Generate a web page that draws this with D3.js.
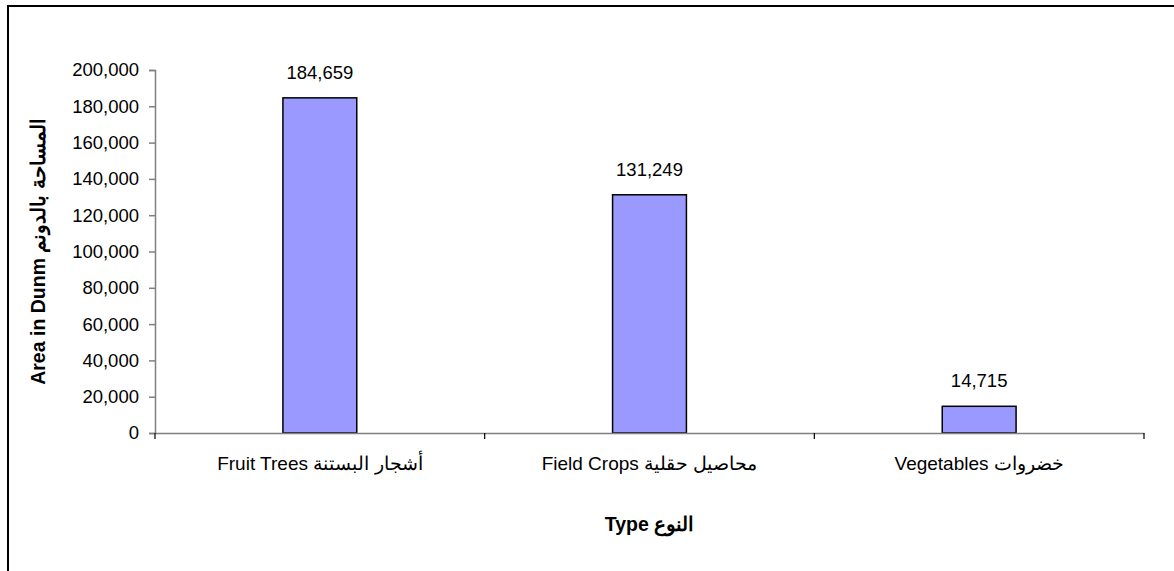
<!DOCTYPE html>
<html>
<head>
<meta charset="utf-8">
<script src="https://cdn.jsdelivr.net/npm/d3@7"></script>
<style>
  body { margin: 0; background: #fff; }
  text { font-family: "Liberation Sans", Arial, sans-serif; }
</style>
</head>
<body>
<div id="chart"></div>
<script>
var categories = ["Fruit Trees أشجار البستنة", "Field Crops محاصيل حقلية", "Vegetables  خضروات"];
var areas = [184659, 131249, 14715];
var yTicks = [0, 20000, 40000, 60000, 80000, 100000, 120000, 140000, 160000, 180000, 200000];
var yTitle = "Area in Dunm  المساحة بالدونم";
var xTitle = "Type النوع";

const W = 1174, H = 571;
const PLOT = { LEFT: 155, RIGHT: 1144, TOP: 70, BOTTOM: 433 };

const svg = d3.select("#chart").append("svg")
  .attr("width", W).attr("height", H);

// chart frame (cut off at right and bottom)
svg.append("rect")
  .attr("x", 8).attr("y", 6)
  .attr("width", W + 10).attr("height", H + 10)
  .attr("fill", "none").attr("stroke", "#000").attr("stroke-width", 2);

var x = d3.scaleBand()
  .domain(categories)
  .range([PLOT.LEFT, PLOT.RIGHT])
  .padding(0);

var y = d3.scaleLinear()
  .domain([0, 200000])
  .range([PLOT.BOTTOM, PLOT.TOP]);

var fmt = d3.format(",");
var barW = x.bandwidth() * 0.224;

// bars
svg.selectAll("rect.bar")
  .data(areas)
  .enter().append("rect")
  .attr("class", "bar")
  .attr("x", (d, i) => x(categories[i]) + x.bandwidth() / 2 - barW / 2)
  .attr("y", d => y(d))
  .attr("width", barW)
  .attr("height", d => y(0) - y(d))
  .attr("fill", "#9999FF")
  .attr("stroke", "#000")
  .attr("stroke-width", 1.5);

// value labels
svg.selectAll("text.val")
  .data(areas)
  .enter().append("text")
  .attr("class", "val")
  .attr("x", (d, i) => x(categories[i]) + x.bandwidth() / 2)
  .attr("y", d => y(d) - 19)
  .attr("text-anchor", "middle")
  .style("font-size", "18.5px")
  .text(d => fmt(d));

// y axis
var yAxis = svg.append("g")
  .attr("transform", `translate(${PLOT.LEFT},0)`)
  .call(d3.axisLeft(y).tickValues(yTicks).tickFormat(fmt).tickSizeOuter(0).tickSize(6).tickPadding(10));
yAxis.select(".domain").attr("stroke", "#808080").attr("stroke-width", 1.5);
yAxis.selectAll(".tick line").attr("stroke", "#808080").attr("stroke-width", 1.5);
yAxis.selectAll(".tick text")
  .style("font-size", "18.5px").attr("fill", "#000")
  .attr("font-family", "Liberation Sans, Arial, sans-serif");

// x axis
var xAxis = svg.append("g")
  .attr("transform", `translate(0,${PLOT.BOTTOM})`)
  .call(d3.axisBottom(x).tickSize(0).tickPadding(24));
xAxis.select(".domain").attr("stroke", "#808080").attr("stroke-width", 1.5);
xAxis.selectAll(".tick text")
  .style("font-size", "19px").attr("fill", "#000")
  .attr("direction", "ltr")
  .attr("font-family", "Liberation Sans, Arial, sans-serif");

// category boundary ticks
var bounds = categories.map(c => x(c)).concat([PLOT.RIGHT]);
svg.selectAll("line.xb")
  .data(bounds)
  .enter().append("line")
  .attr("class", "xb")
  .attr("x1", d => d).attr("x2", d => d)
  .attr("y1", PLOT.BOTTOM).attr("y2", PLOT.BOTTOM + 6)
  .attr("stroke", "#000").attr("stroke-width", 1.2);

// axis titles
svg.append("text")
  .attr("transform", `translate(38,${(PLOT.TOP + PLOT.BOTTOM) / 2}) rotate(-90)`)
  .attr("text-anchor", "middle")
  .attr("dominant-baseline", "central")
  .attr("direction", "ltr")
  .style("font-size", "19.5px").style("font-weight", "bold")
  .text(yTitle);

svg.append("text")
  .attr("x", (PLOT.LEFT + PLOT.RIGHT) / 2)
  .attr("y", 531)
  .attr("text-anchor", "middle")
  .attr("direction", "ltr")
  .style("font-size", "19.5px").style("font-weight", "bold")
  .text(xTitle);
</script>
</body>
</html>
